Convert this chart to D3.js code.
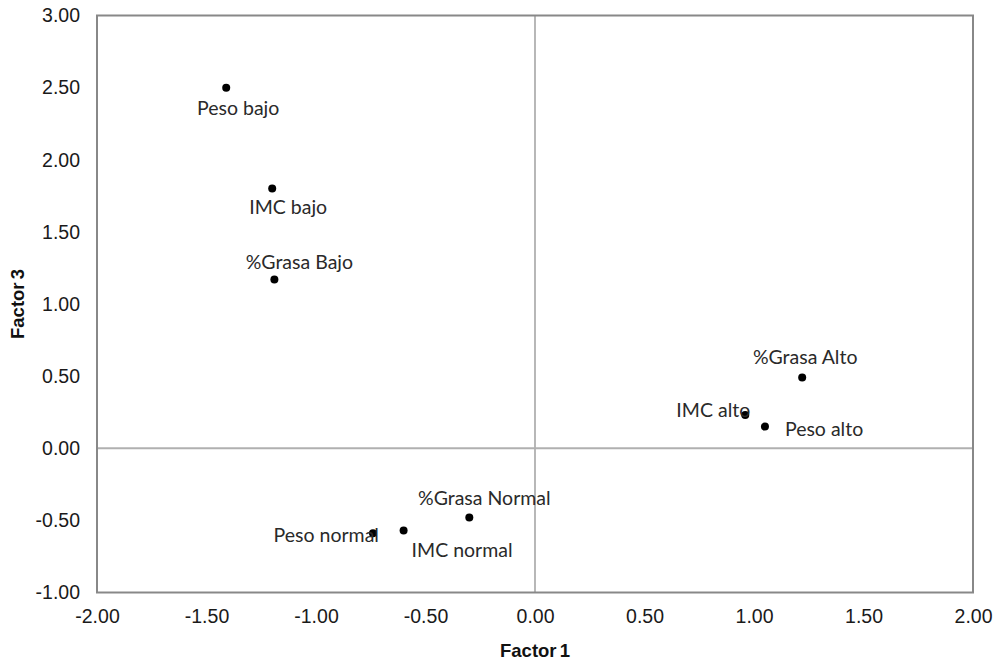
<!DOCTYPE html>
<html>
<head>
<meta charset="utf-8">
<script src="https://cdn.jsdelivr.net/npm/d3@7"></script>
<style>
  body { margin: 0; background: #fff; }
  svg { display: block; }
</style>
</head>
<body>
<div id="chart"></div>
<script>
// Data
const labels  = ["Peso bajo", "IMC bajo", "%Grasa Bajo", "%Grasa Alto", "IMC alto", "Peso alto", "%Grasa Normal", "IMC normal", "Peso normal"];
const factor1 = [-1.41, -1.20, -1.19, 1.22, 0.96, 1.05, -0.30, -0.60, -0.74];
const factor3 = [2.50, 1.80, 1.17, 0.49, 0.23, 0.15, -0.48, -0.57, -0.59];

const xTicks = [-2, -1.5, -1, -0.5, 0, 0.5, 1, 1.5, 2];
const yTicks = [-1, -0.5, 0, 0.5, 1, 1.5, 2, 2.5, 3];

// Where each label sits relative to its point (layout only)
const labelPlacement = [
    { dx: 12, dy: 27, anchor: "middle" },
    { dx: 16, dy: 25, anchor: "middle" },
    { dx: 25, dy: -10, anchor: "middle" },
    { dx: 3, dy: -14, anchor: "middle" },
    { dx: 5, dy: 2, anchor: "end" },
    { dx: 20, dy: 9, anchor: "start" },
    { dx: 15, dy: -12, anchor: "middle" },
    { dx: 8, dy: 27, anchor: "start" },
    { dx: 6, dy: 9, anchor: "end" }
];

const width = 995;
const height = 663;
const margin = { top: 15.5, right: 22, bottom: 70.5, left: 97 };

const svg = d3.select("#chart").append("svg")
    .attr("width", width)
    .attr("height", height);

const x = d3.scaleLinear().domain([-2, 2]).range([margin.left, width - margin.right]);
const y = d3.scaleLinear().domain([-1, 3]).range([height - margin.bottom, margin.top]);

// Excel style: plain hyphen for negatives
const fmt = d => d3.format(".2f")(d).replace("\u2212", "-");

// Zero lines
svg.append("line")
    .attr("x1", x(0)).attr("x2", x(0))
    .attr("y1", y(3)).attr("y2", y(-1))
    .attr("stroke", "#b0b0b0").attr("stroke-width", 1.8);
svg.append("line")
    .attr("x1", x(-2)).attr("x2", x(2))
    .attr("y1", y(0)).attr("y2", y(0))
    .attr("stroke", "#b0b0b0").attr("stroke-width", 1.8);

// Plot frame
svg.append("rect")
    .attr("x", x(-2)).attr("y", y(3))
    .attr("width", x(2) - x(-2))
    .attr("height", y(-1) - y(3))
    .attr("fill", "none")
    .attr("stroke", "#888").attr("stroke-width", 2);

// Axes (labels only, no tick marks)
const xAxis = svg.append("g")
    .attr("transform", `translate(0,${y(-1)})`)
    .call(d3.axisBottom(x).tickValues(xTicks).tickFormat(fmt).tickSize(0).tickPadding(17));
const yAxis = svg.append("g")
    .attr("transform", `translate(${x(-2)},0)`)
    .call(d3.axisLeft(y).tickValues(yTicks).tickFormat(fmt).tickSize(0).tickPadding(17));

[xAxis, yAxis].forEach(g => {
    g.select(".domain").remove();
    g.selectAll("text")
        .attr("font-family", "'Liberation Sans', Arial, sans-serif")
        .attr("font-size", 19.5)
        .attr("fill", "#1a1a1a");
});

// Axis titles
svg.append("text")
    .attr("x", x(0))
    .attr("y", 657)
    .attr("text-anchor", "middle")
    .attr("font-family", "'Liberation Sans', Arial, sans-serif")
    .attr("font-weight", "bold")
    .attr("font-size", 18.5)
    .attr("word-spacing", -2)
    .attr("fill", "#111")
    .text("Factor 1");

svg.append("text")
    .attr("transform", `translate(24,${y(1)}) rotate(-90)`)
    .attr("text-anchor", "middle")
    .attr("font-family", "'Liberation Sans', Arial, sans-serif")
    .attr("font-weight", "bold")
    .attr("font-size", 18.5)
    .attr("word-spacing", -2)
    .attr("fill", "#111")
    .text("Factor 3");

// Points
const points = labels.map((name, i) => ({ name, f1: factor1[i], f3: factor3[i], place: labelPlacement[i] }));

svg.selectAll(".pt")
    .data(points)
    .enter()
    .append("circle")
    .attr("class", "pt")
    .attr("cx", d => x(d.f1))
    .attr("cy", d => y(d.f3))
    .attr("r", 4)
    .attr("fill", "#000");

svg.selectAll(".lbl")
    .data(points)
    .enter()
    .append("text")
    .attr("class", "lbl")
    .attr("x", d => x(d.f1) + d.place.dx)
    .attr("y", d => y(d.f3) + d.place.dy)
    .attr("text-anchor", d => d.place.anchor)
    .attr("font-family", "Lato, 'Open Sans', sans-serif")
    .attr("font-size", 19.5)
    .attr("fill", "#2a2a2a")
    .text(d => d.name);
</script>
</body>
</html>
